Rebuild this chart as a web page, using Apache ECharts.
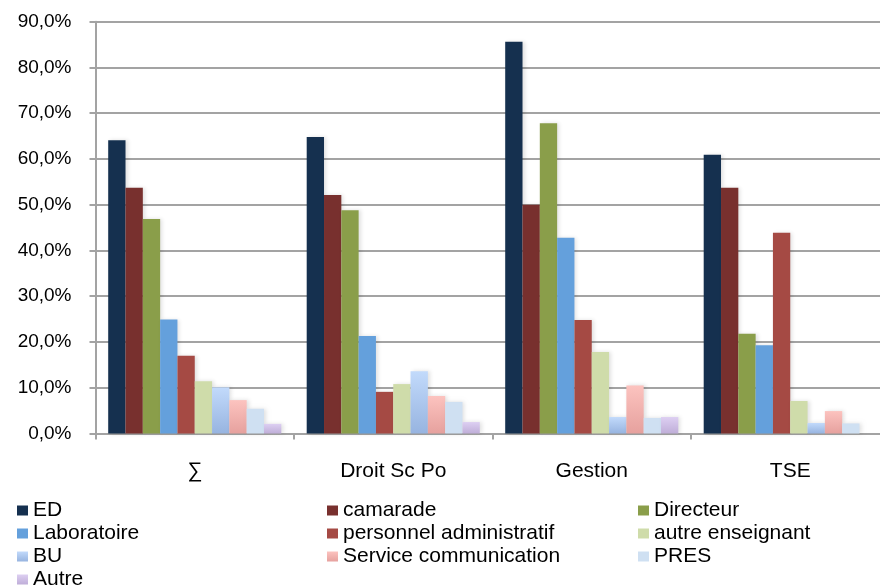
<!DOCTYPE html>
<html>
<head>
<meta charset="utf-8">
<script src="https://cdn.jsdelivr.net/npm/echarts@6/dist/echarts.min.js"></script>
<style>
  html, body { margin: 0; padding: 0; background: #fff; overflow: hidden; }
  /* the plot runs slightly past the right edge of the window */
  #chart { width: 890px; height: 588px; }
</style>
</head>
<body>
<div id="chart"></div>
<script>
// Groups along the x axis
const categories = ['∑', 'Droit Sc Po', 'Gestion', 'TSE'];

// Share of respondents per source (%)
const ed = [64.1, 64.8, 85.6, 60.9];
const camarade = [53.7, 52.1, 50.0, 53.7];
const directeur = [46.9, 48.8, 67.8, 21.8];
const laboratoire = [24.9, 21.3, 42.8, 19.3];
const personnelAdmin = [17.0, 9.1, 24.8, 43.9];
const autreEnseignant = [11.4, 10.8, 17.8, 7.1];
const bu = [10.1, 13.6, 3.6, 2.3];
const serviceCom = [7.3, 8.2, 10.5, 4.9];
const pres = [5.4, 6.9, 3.4, 2.2];
const autre = [2.1, 2.5, 3.6, 0];

// Y axis ticks
const yTicks = [0, 10, 20, 30, 40, 50, 60, 70, 80, 90];

const grad = (top, bottom) => new echarts.graphic.LinearGradient(0, 0, 0, 1, [
  { offset: 0, color: top }, { offset: 1, color: bottom }
]);

const seriesDefs = [
  { name: 'ED', data: ed, color: '#15304f' },
  { name: 'camarade', data: camarade, color: '#78302e' },
  { name: 'Directeur', data: directeur, color: '#8a9e4a' },
  { name: 'Laboratoire', data: laboratoire, color: '#64a0dc' },
  { name: 'personnel administratif', data: personnelAdmin, color: '#a54a44' },
  { name: 'autre enseignant', data: autreEnseignant, color: '#cfdcaa' },
  { name: 'BU', data: bu, color: grad('#c2dafb', '#97b4e0') },
  { name: 'Service communication', data: serviceCom, color: grad('#fcc3bf', '#e6a19e') },
  { name: 'PRES', data: pres, color: '#cfe0f2' },
  { name: 'Autre', data: autre, color: grad('#ddcff2', '#bfaed8') }
];

const font = 'Liberation Sans, Arial, Helvetica, sans-serif';
const axisGray = '#a3a3a3';

const legendBase = {
  orient: 'vertical',
  top: 500,
  height: 100,
  padding: 0,
  itemWidth: 11,
  itemHeight: 10,
  itemGap: 2,
  icon: 'rect',
  selectedMode: false,
  textStyle: { fontFamily: font, fontSize: 21, lineHeight: 21, color: '#000', padding: [0, 0, 0, 0] }
};

const chart = echarts.init(document.getElementById('chart'), null, { renderer: 'canvas' });

chart.setOption({
  animation: false,
  backgroundColor: '#fff',
  grid: { left: 95.5, width: 794, top: 21.7, height: 411.8, containLabel: false },
  legend: [
    Object.assign({}, legendBase, { left: 17, data: ['ED', 'Laboratoire', 'BU', 'Autre'] }),
    Object.assign({}, legendBase, { left: 327, data: ['camarade', 'personnel administratif', 'Service communication'] }),
    Object.assign({}, legendBase, { left: 638, data: ['Directeur', 'autre enseignant', 'PRES'] })
  ],
  xAxis: {
    type: 'category',
    data: categories,
    axisLine: { lineStyle: { color: axisGray, width: 2 } },
    axisTick: { show: true, length: 6, lineStyle: { color: axisGray, width: 2 } },
    axisLabel: { fontFamily: font, fontSize: 21, color: '#000', margin: 27 },
    splitLine: { show: false }
  },
  yAxis: {
    type: 'value',
    min: yTicks[0],
    max: yTicks[yTicks.length - 1],
    interval: 10,
    axisLine: { show: true, lineStyle: { color: axisGray, width: 2 } },
    axisTick: { show: true, length: 6, lineStyle: { color: axisGray, width: 2 } },
    axisLabel: {
      fontFamily: font, fontSize: 19, color: '#000', margin: 24,
      formatter: v => v.toFixed(1).replace('.', ',') + '%'
    },
    splitLine: { show: true, showMaxLine: true, lineStyle: { color: axisGray, width: 2 } }
  },
  series: seriesDefs.map(s => ({
    name: s.name,
    type: 'bar',
    data: s.data,
    barGap: '0%',
    barCategoryGap: '12.8%',
    itemStyle: {
      color: s.color,
      shadowColor: 'rgba(0,0,0,0.12)',
      shadowBlur: 4,
      shadowOffsetX: 2,
      shadowOffsetY: 0
    }
  }))
});
</script>
</body>
</html>
